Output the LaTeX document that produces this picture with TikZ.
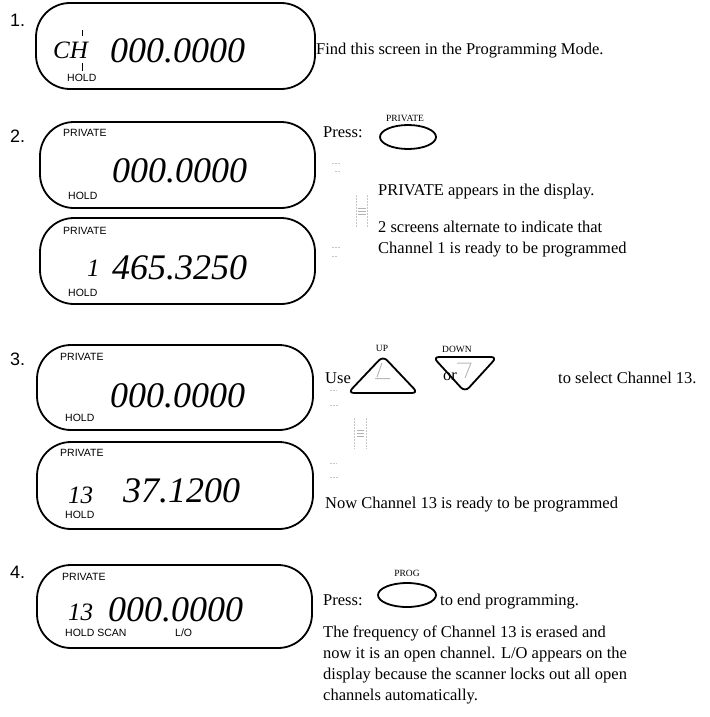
\documentclass[tikz,border=0pt]{standalone}
\usepackage{fontspec}
\setmainfont{Liberation Serif}
\newfontfamily\sansf{Liberation Sans}
\begin{document}
\begin{tikzpicture}[x=1pt,y=-1pt,
  lcd/.style={draw=black,line width=1.8pt,rounded corners=34pt},
  stepnum/.style={anchor=west,inner sep=0pt,font=\sansf\fontsize{18}{18}\selectfont},
  lab/.style={anchor=west,inner sep=0pt,font=\sansf\fontsize{10.5}{10.5}\selectfont},
  digits/.style={anchor=west,inner sep=0pt,font=\fontsize{36}{36}\selectfont\itshape},
  chnum/.style={anchor=west,inner sep=0pt,font=\fontsize{25}{25}\selectfont\itshape},
  body/.style={anchor=base west,inner sep=0pt,font=\fontsize{16.5}{16.5}\selectfont},
  keylab/.style={inner sep=0pt,font=\fontsize{9.5}{9.5}\selectfont},
  keybtn/.style={draw=black,line width=1.8pt},
  faint/.style={draw=gray!45,line width=0.5pt,dash pattern=on 1.5pt off 1.5pt},
  faintb/.style={draw=gray!60,line width=0.6pt}
]
\useasboundingbox (0,0) rectangle (709,717);

% ---------- Step 1 ----------
\node[stepnum] (n1) at (10,20) {1.};
\draw[lcd] (36,3) rectangle (315,89);
\node[chnum] (ch) at (53,50) {CH};
\draw[line width=0.6pt] (82,30) -- (82,36);
\draw[line width=0.6pt] (82,63) -- (82,71);
\node[digits] (d1) at (110,50.5) {000.0000};
\node[lab] (h1) at (67,78) {HOLD};
\node[body] (t1) at (316,55) {Find this screen in the Programming Mode.};

% ---------- Step 2 ----------
\node[stepnum] (n2) at (10,136) {2.};
\draw[lcd] (40,122) rectangle (315,208);
\node[lab] (p2a) at (63,133) {PRIVATE};
\node[digits] (d2a) at (112,171) {000.0000};
\node[lab] (h2a) at (68,196) {HOLD};
\draw[lcd] (40,218) rectangle (315,304);
\node[lab] (p2b) at (63,231) {PRIVATE};
\node[chnum] (c2b) at (87,268) {1};
\node[digits] (d2b) at (112,268) {465.3250};
\node[lab] (h2b) at (68,293) {HOLD};

\node[body] (press2) at (323,137) {Press:};
\node[keylab] (kpriv) at (405,118) {PRIVATE};
\draw[keybtn] (408,137) ellipse (28 and 12);
\node[body] (t2a) at (378,195) {PRIVATE appears in the display.};
\node[body] (t2b) at (378,232) {2 screens alternate to indicate that};
\node[body] (t2c) at (378,253) {Channel 1 is ready to be programmed};
% faint bracket marks
\draw[faint] (332,163) -- (340,163) (335,171) -- (341,171);
\draw[faint] (356,195) -- (356,228) (367,195) -- (367,228);
\draw[faintb] (358,208) -- (366,208) (358,211) -- (366,211) (358,214) -- (366,214);
\draw[faint] (332,247) -- (340,247) (332,256) -- (338,256);

% ---------- Step 3 ----------
\node[stepnum] (n3) at (10,359) {3.};
\draw[lcd] (37,345) rectangle (313,430);
\node[lab] (p3a) at (60,357) {PRIVATE};
\node[digits] (d3a) at (110,396) {000.0000};
\node[lab] (h3a) at (65,418) {HOLD};
\draw[lcd] (37,442) rectangle (313,529);
\node[lab] (p3b) at (60,453) {PRIVATE};
\node[chnum] (c3b) at (68,495) {13};
\node[digits] (d3b) at (123,491) {37.1200};
\node[lab] (h3b) at (65,515) {HOLD};

\node[body] (use) at (325,383) {Use};
\node[keylab] (kup) at (382,348) {UP};
\draw[keybtn,rounded corners=6pt] (383,356) -- (418,393) -- (348,393) -- cycle;
\draw[gray!55,line width=1pt] (382,363) -- (377,377) (375,378.5) -- (390,378.5);
\node[keylab] (kdown) at (457,349) {DOWN};
\draw[keybtn,rounded corners=6pt] (433,357) -- (497,357) -- (465,392) -- cycle;
\draw[gray!55,line width=1pt] (457,363) -- (471,363) -- (465,378);
\node[body] (or) at (443,380) {or};
\node[body] (t3a) at (558,383) {to select Channel 13.};
\node[body] (t3b) at (325,508) {Now Channel 13 is ready to be programmed};
% faint bracket marks
\draw[faint] (330,390) -- (337,390) (330,405) -- (338,405);
\draw[faint] (354,418) -- (354,449) (366,418) -- (366,449);
\draw[faintb] (357,430) -- (364,430) (357,433) -- (364,433) (357,436) -- (364,436);
\draw[faint] (330,463) -- (337,463) (330,477) -- (338,477);

% ---------- Step 4 ----------
\node[stepnum] (n4) at (10,572) {4.};
\draw[lcd] (37,565) rectangle (312,648);
\node[lab] (p4) at (62,577) {PRIVATE};
\node[chnum] (c4) at (68,612) {13};
\node[digits] (d4) at (108,610) {000.0000};
\node[lab] (h4) at (65,633) {HOLD SCAN};
\node[lab] (lo4) at (175,633) {L/O};

\node[body] (press4) at (323,605) {Press:};
\node[keylab] (kprog) at (407,573) {PROG};
\draw[keybtn] (407,595) ellipse (29 and 12);
\node[body] (t4a) at (440,605) {to end programming.};
\node[body] (t4b) at (323,637) {The frequency of Channel 13 is erased and};
\node[body] (t4c) at (323,658) {now it is an open channel. L/O appears on the};
\node[body] (t4d) at (323,679) {display because the scanner locks out all open};
\node[body] (t4e) at (323,700) {channels automatically.};
\end{tikzpicture}
\end{document}
